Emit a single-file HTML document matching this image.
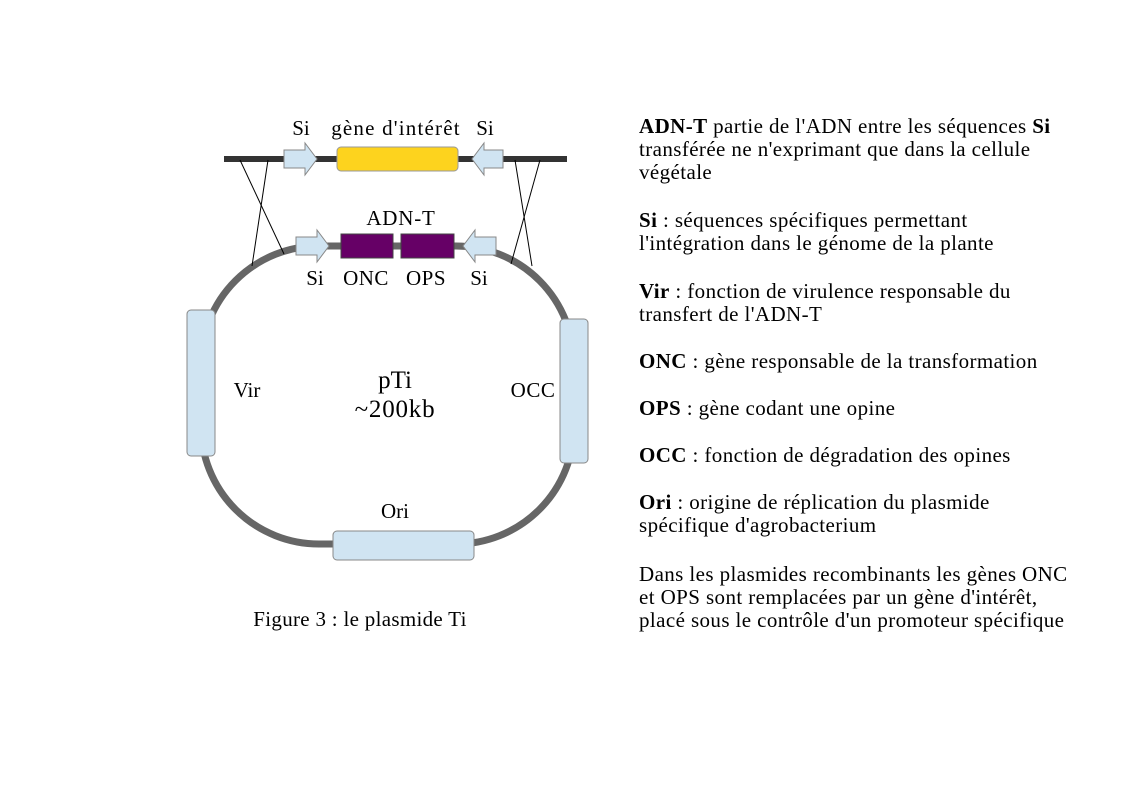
<!DOCTYPE html>
<html><head><meta charset="utf-8"><style>
body{margin:0;width:1123px;height:794px;background:#fff;position:relative;overflow:hidden;font-family:"Liberation Serif",serif;color:#000}
.t{position:absolute;left:639px;font-size:21px;letter-spacing:0.4px;white-space:nowrap;line-height:23px}
svg{position:absolute;left:0;top:0}
</style></head><body>
<svg width="1123" height="794" font-family="Liberation Serif, serif">
<rect x="201" y="246" width="373" height="298" rx="118" ry="118" fill="none" stroke="#666" stroke-width="7"/>
<line x1="224" y1="159" x2="567" y2="159" stroke="#333" stroke-width="6"/>
<g stroke="#000" stroke-width="1">
<line x1="240" y1="160" x2="284" y2="254"/><line x1="268" y1="160" x2="252" y2="266"/>
<line x1="515" y1="160" x2="532" y2="266"/><line x1="540" y1="160" x2="511" y2="264"/>
</g>
<g fill="#d0e4f2" stroke="#888" stroke-width="1">
<path d="M284 150 H305 V143 L317 159 L305 175 V168 H284 Z"/>
<path d="M503 150 H484 V143 L472 159 L484 175 V168 H503 Z"/>
<path d="M296 237 H317 V230 L329 246 L317 262 V255 H296 Z"/>
<path d="M496 237 H475 V230 L463 246 L475 262 V255 H496 Z"/>
<rect x="187" y="310" width="28" height="146" rx="4"/>
<rect x="560" y="319" width="28" height="144" rx="4"/>
<rect x="333" y="531" width="141" height="29" rx="4"/>
</g>
<rect x="337" y="147" width="121" height="24" rx="4" fill="#fdd31e" stroke="#999"/>
<rect x="341" y="234" width="52" height="24" fill="#660066" stroke="#444"/>
<rect x="401" y="234" width="53" height="24" fill="#660066" stroke="#444"/>
<g font-size="21" text-anchor="middle">
<text x="301" y="135">Si</text><text x="396" y="135" letter-spacing="1.2">gène d'intérêt</text><text x="485" y="135">Si</text>
<text x="401" y="225" letter-spacing="0.8">ADN-T</text>
<text x="315" y="285">Si</text><text x="366" y="285" letter-spacing="0.5">ONC</text><text x="426" y="285" letter-spacing="0.5">OPS</text><text x="479" y="285">Si</text>
<text x="247" y="397">Vir</text><text x="533" y="397" letter-spacing="0.5">OCC</text><text x="395" y="518">Ori</text>
<text x="395" y="388" font-size="25">pTi</text><text x="395" y="417" font-size="25" letter-spacing="0.8">~200kb</text>
<text x="360" y="626" letter-spacing="0.3">Figure 3 : le plasmide Ti</text>
</g>
</svg>
<div class="t" style="top:115px"><b>ADN-T</b> partie de l'ADN entre les séquences <b>Si</b><br>transférée ne n'exprimant que dans la cellule<br>végétale</div>
<div class="t" style="top:209px"><b>Si</b> : séquences spécifiques permettant<br>l'intégration dans le génome de la plante</div>
<div class="t" style="top:280px"><b>Vir</b> : fonction de virulence responsable du<br>transfert de l'ADN-T</div>
<div class="t" style="top:350px"><b>ONC</b> : gène responsable de la transformation</div>
<div class="t" style="top:397px"><b>OPS</b> : gène codant une opine</div>
<div class="t" style="top:444px"><b>OCC</b> : fonction de dégradation des opines</div>
<div class="t" style="top:491px"><b>Ori</b> : origine de réplication du plasmide<br>spécifique d'agrobacterium</div>
<div class="t" style="top:563px">Dans les plasmides recombinants les gènes ONC<br>et OPS sont remplacées par un gène d'intérêt,<br>placé sous le contrôle d'un promoteur spécifique</div>
</body></html>
